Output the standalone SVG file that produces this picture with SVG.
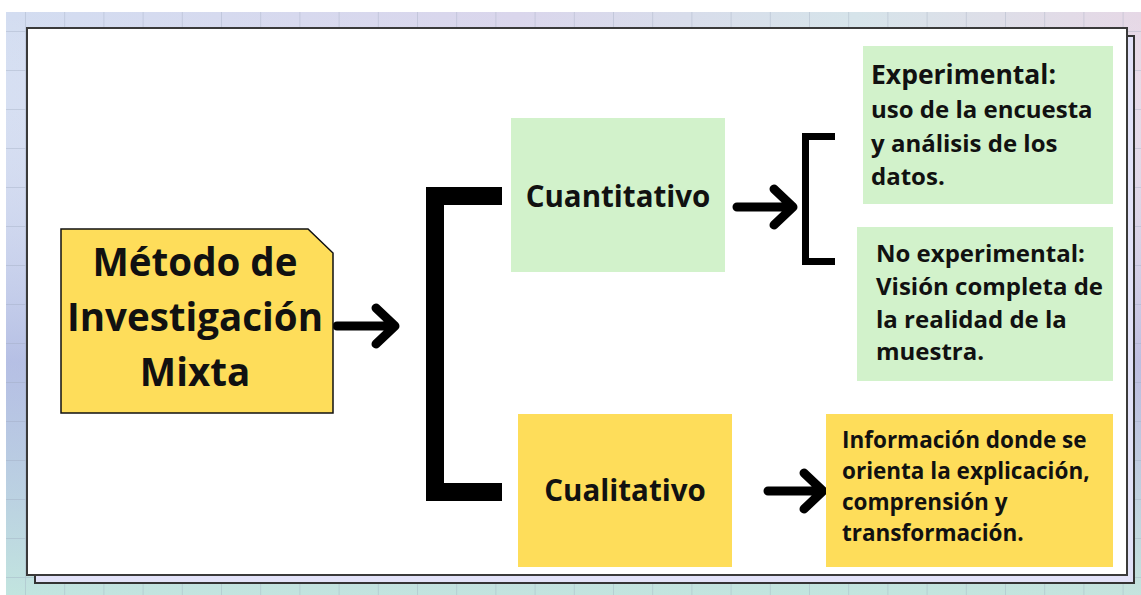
<svg xmlns="http://www.w3.org/2000/svg" width="1141" height="595" viewBox="0 0 1141 595">
<defs>
<linearGradient id="bgH" x1="0" y1="0" x2="1" y2="0">
<stop offset="0" stop-color="#d3ddf1"/>
<stop offset="0.45" stop-color="#dad6ec"/>
<stop offset="0.75" stop-color="#d6e4ea"/>
<stop offset="1" stop-color="#e6d8e6"/>
</linearGradient>
<linearGradient id="bgV" x1="0" y1="0" x2="0" y2="1">
<stop offset="0" stop-color="#ffffff" stop-opacity="0"/>
<stop offset="0.6" stop-color="#a2acdc" stop-opacity="0.6"/>
<stop offset="1" stop-color="#bfe6dc" stop-opacity="0.85"/>
</linearGradient>
<pattern id="grid" x="25" y="31" width="39.2" height="39" patternUnits="userSpaceOnUse">
<path d="M0,0 V39 M0,0 H39.2" fill="none" stroke="#9aa4b8" stroke-opacity="0.45" stroke-width="1.5"/>
</pattern>
<style>
.lbl{font-family:"Open Sans","Noto Sans","Liberation Sans",sans-serif;font-weight:700;fill:#111}
.green{fill:#d2f2cb}
.yellow{fill:#fedd5a}
.arrow{fill:none;stroke:#000;stroke-width:9;stroke-linecap:round;stroke-linejoin:round}
.brk{fill:none;stroke:#000;stroke-linejoin:miter;stroke-linecap:butt}
</style>
</defs>
<rect x="0" y="0" width="1141" height="595" fill="#ffffff"/>
<rect x="6" y="12" width="1135" height="583" fill="url(#bgH)"/>
<rect x="6" y="12" width="1135" height="583" fill="url(#bgV)"/>
<rect x="6" y="12" width="1135" height="583" fill="url(#grid)"/>
<rect x="35" y="36" width="1099" height="547" fill="#e2e2f8" stroke="#333" stroke-width="2"/>
<rect x="27" y="28" width="1100" height="547" fill="#ffffff" stroke="#3a3a3a" stroke-width="2"/>

<g id="connectors">
<path class="arrow" d="M337,326 H393 M376,308 L395,326 L376,344"/>
<path class="brk" stroke-width="18" d="M502,196 H435 V492 H502"/>
<path class="arrow" d="M737,207 H791 M774,189 L793,207 L774,225"/>
<path class="brk" stroke-width="7" d="M835,136.5 H805.5 V261.5 H835"/>
<path class="arrow" d="M768,491 H821 M804,473 L823,491 L804,509"/>
</g>

<g id="node-main">
<path class="yellow" d="M61,229 H308 L333,253 V413 H61 Z" stroke="#111" stroke-width="1.5"/>
<text class="lbl" font-size="38.5" text-anchor="middle" x="195" y="276">Método de</text>
<text class="lbl" font-size="38.5" text-anchor="middle" x="195" y="331">Investigación</text>
<text class="lbl" font-size="38.5" text-anchor="middle" x="195" y="386">Mixta</text>
</g>

<g id="node-cuantitativo">
<rect class="green" x="511" y="118" width="214" height="154"/>
<text class="lbl" font-size="29.5" text-anchor="middle" x="618" y="207">Cuantitativo</text>
</g>

<g id="node-cualitativo">
<rect class="yellow" x="518" y="414" width="214" height="153"/>
<text class="lbl" font-size="29.5" text-anchor="middle" x="625" y="501">Cualitativo</text>
</g>

<g id="node-experimental">
<rect class="green" x="863" y="46" width="250" height="158"/>
<text class="lbl" font-size="26.5" x="871" y="84">Experimental:</text>
<text class="lbl" font-size="24" x="871" y="118">uso de la encuesta</text>
<text class="lbl" font-size="24" x="871" y="152">y análisis de los</text>
<text class="lbl" font-size="24" x="871" y="185">datos.</text>
</g>

<g id="node-noexperimental">
<rect class="green" x="857" y="227" width="256" height="154"/>
<text class="lbl" font-size="24" x="876" y="262">No experimental:</text>
<text class="lbl" font-size="24" x="876" y="295">Visión completa de</text>
<text class="lbl" font-size="24" x="876" y="328">la realidad de la</text>
<text class="lbl" font-size="24" x="876" y="360">muestra.</text>
</g>

<g id="node-informacion">
<rect class="yellow" x="826" y="414" width="287" height="153"/>
<text class="lbl" font-size="22.5" x="842" y="448">Información donde se</text>
<text class="lbl" font-size="22.5" x="842" y="479">orienta la explicación,</text>
<text class="lbl" font-size="22.5" x="842" y="510">comprensión y</text>
<text class="lbl" font-size="22.5" x="842" y="541">transformación.</text>
</g>
</svg>
